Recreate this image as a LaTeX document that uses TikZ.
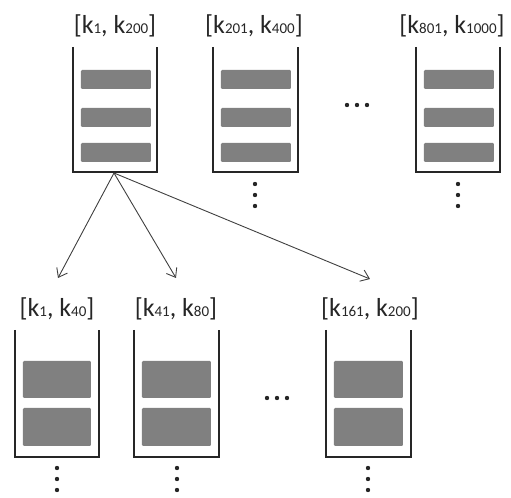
\documentclass[tikz,border=0pt]{standalone}
\usepackage{fontspec}
\setmainfont{Carlito}
\usetikzlibrary{arrows.meta}
\newcommand{\kidx}[1]{k{\fontsize{7.5pt}{8pt}\selectfont #1}}

\begin{document}
\begin{tikzpicture}[x=0.5pt,y=-0.5pt,
    wall/.style={line width=1pt, draw=black!85},
    slot/.style={fill=black!50, rounded corners=0.6pt},
    lbl/.style={anchor=base, inner sep=1pt, text=black!85,
                font=\fontsize{13pt}{15pt}\selectfont},
    link/.style={-{Straight Barb[length=4pt,width=6pt]}, line width=0.45pt, draw=black!75}]

    \useasboundingbox (0,0) rectangle (511,498);

    % Blocos de cima
    \draw[wall] (73,47) -- (73,172) -- (157,172) -- (157,47);
    \fill[slot] (81,70) rectangle (151,89);
    \fill[slot] (81,108) rectangle (151,127);
    \fill[slot] (81,143) rectangle (151,162);
    \node[lbl] (top1) at (115,33) {[\kidx{1}, \kidx{200}]};

    \draw[wall] (213,47) -- (213,172) -- (298,172) -- (298,47);
    \fill[slot] (221,70) rectangle (291,89);
    \fill[slot] (221,108) rectangle (291,127);
    \fill[slot] (221,143) rectangle (291,162);
    \node[lbl] (top2) at (254,33) {[\kidx{201}, \kidx{400}]};

    \draw[wall] (416,47) -- (416,172) -- (500,172) -- (500,47);
    \fill[slot] (424,70) rectangle (494,89);
    \fill[slot] (424,108) rectangle (494,127);
    \fill[slot] (424,143) rectangle (494,162);
    \node[lbl] (top3) at (452,33) {[\kidx{801}, \kidx{1000}]};

    % Reticencias de cima
    \fill[black!85] (347,105) circle (1.1pt) (357,105) circle (1.1pt) (367,105) circle (1.1pt);
    \fill[black!85] (255,184) circle (1.1pt) (255,195) circle (1.1pt) (255,206) circle (1.1pt);
    \fill[black!85] (458,184) circle (1.1pt) (458,195) circle (1.1pt) (458,206) circle (1.1pt);

    % Blocos de baixo
    \draw[wall] (15,330) -- (15,457) -- (99,457) -- (99,330);
    \fill[slot] (23,361) rectangle (91,398);
    \fill[slot] (23,408) rectangle (91,446);
    \node[lbl] (low1) at (57,317) {[\kidx{1}, \kidx{40}]};

    \draw[wall] (134,330) -- (134,457) -- (219,457) -- (219,330);
    \fill[slot] (142,361) rectangle (211,398);
    \fill[slot] (142,408) rectangle (211,446);
    \node[lbl] (low2) at (176,317) {[\kidx{41}, \kidx{80}]};

    \draw[wall] (326,330) -- (326,457) -- (411,457) -- (411,330);
    \fill[slot] (334,361) rectangle (403,398);
    \fill[slot] (334,408) rectangle (403,446);
    \node[lbl] (low3) at (370,317) {[\kidx{161}, \kidx{200}]};

    % Reticencias de baixo
    \fill[black!85] (267,398) circle (1.1pt) (277,398) circle (1.1pt) (287,398) circle (1.1pt);
    \fill[black!85] (57,468) circle (1.1pt) (57,479) circle (1.1pt) (57,490) circle (1.1pt);
    \fill[black!85] (177,468) circle (1.1pt) (177,479) circle (1.1pt) (177,490) circle (1.1pt);
    \fill[black!85] (368,468) circle (1.1pt) (368,479) circle (1.1pt) (368,490) circle (1.1pt);

    % Setas do primeiro bloco
    \coordinate (fundo) at (114,173);
    \coordinate (ponta1) at (58,278);
    \coordinate (ponta2) at (176,278);
    \coordinate (ponta3) at (370,279);
    \draw[link] (fundo) -- (ponta1);
    \draw[link] (fundo) -- (ponta2);
    \draw[link] (fundo) -- (ponta3);

\end{tikzpicture}
\end{document}
